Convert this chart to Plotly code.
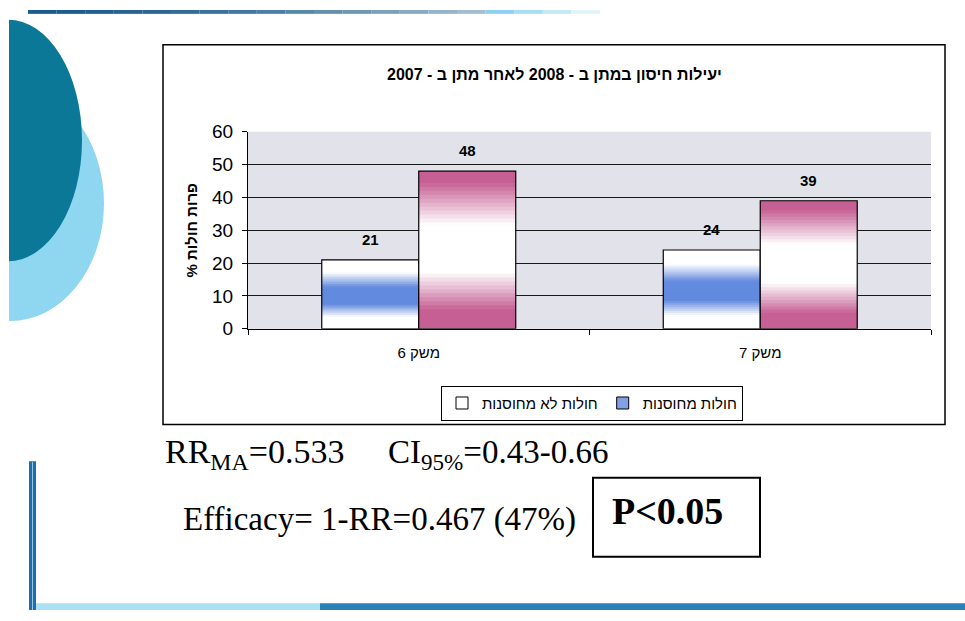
import plotly.graph_objects as go

# ---------------- data ----------------
categories = ["משק 6", "משק 7"]
vaccinated = [21, 24]
unvaccinated = [48, 39]
name_vacc = "חולות מחוסנות"
name_unvacc = "חולות לא מחוסנות"
y_ticks = [0, 10, 20, 30, 40, 50, 60]
title_text = "יעילות חיסון במתן ב - 2008 לאחר מתן ב - 2007"
y_title = "% פרות חולות"
rr_text = "RR<sub>MA</sub>=0.533"
ci_text = "CI<sub>95%</sub>=0.43-0.66"
eff_text = "Efficacy= 1-RR=0.467 (47%)"
p_text = "P<0.05"

W, H = 965, 621


def px(x):
    return x / W


def py(y):
    return 1 - y / H


# plot area in pixels
PL, PR, PT, PB = 248, 931, 126, 330
BARGAP = 0.432

SANS = "Liberation Sans, Arial, DejaVu Sans, sans-serif"
SERIF = "Liberation Serif, Times New Roman, serif"


def ramp(t, pts):
    for (t0, a0), (t1, a1) in zip(pts, pts[1:]):
        if t0 <= t <= t1:
            return a0 + (a1 - a0) * (t - t0) / (t1 - t0) if t1 > t0 else a1
    return pts[-1][1]


def mix(full, a):
    r, g, b = full
    return "rgb(%d,%d,%d)" % (255 + (r - 255) * a, 255 + (g - 255) * a, 255 + (b - 255) * a)


blue_full = (98, 138, 222)
pink_full = (198, 96, 148)
blue_profile = [(0, 0), (0.17, 0), (0.36, 1), (0.6, 1), (0.82, 0), (1, 0)]
pink_profile = [(0, 1), (0.12, 1), (0.36, 0), (0.66, 0), (0.93, 1), (1, 1)]

fig = go.Figure()

N = 40
series = [
    ("vacc", vaccinated, blue_full, blue_profile),
    ("unvacc", unvaccinated, pink_full, pink_profile),
]
for grp, vals, full, prof in series:
    for i in range(N):
        t = (i + 0.5) / N
        a = ramp(t, prof)
        h = min(1.6, N - i) / N
        fig.add_trace(go.Bar(
            x=categories,
            y=[v * h for v in vals],
            base=[v * i / N for v in vals],
            offsetgroup=grp,
            marker=dict(color=mix(full, a), line=dict(width=0)),
            showlegend=False,
            hoverinfo="skip",
        ))
    fig.add_trace(go.Bar(
        x=categories, y=vals, offsetgroup=grp,
        marker=dict(color="rgba(0,0,0,0)", line=dict(color="black", width=1.2)),
        showlegend=False,
        hovertemplate="%{x}: %{y}<extra></extra>",
    ))

# legend entries (ordered like the reference, visually)
fig.add_trace(go.Bar(
    x=[None], y=[None], offsetgroup="unvacc", name=name_unvacc,
    marker=dict(color="white", line=dict(color="black", width=1)),
))
fig.add_trace(go.Bar(
    x=[None], y=[None], offsetgroup="vacc", name=name_vacc,
    marker=dict(color="rgb(130,160,230)", line=dict(color="black", width=1)),
))

# value labels
plot_w = PR - PL
cat_w = plot_w / len(categories)
bar_w = cat_w * (1 - BARGAP) / 2
annotations = []
for vals, sign in ((vaccinated, -1), (unvaccinated, 1)):
    for c, v in zip(categories, vals):
        annotations.append(dict(
            x=c, y=v, xref="x", yref="y", text="<b>%d</b>" % v, showarrow=False,
            xshift=sign * bar_w / 2, yshift=10, yanchor="bottom",
            font=dict(family=SANS, size=15, color="black"),
        ))

# title
annotations.append(dict(
    x=px(554), y=py(67), xref="paper", yref="paper", text="<b>%s</b>" % title_text,
    showarrow=False, xanchor="center", yanchor="middle",
    font=dict(family=SANS, size=16, color="black"),
))

# statistics text
annotations += [
    dict(x=px(163), y=py(460), xref="paper", yref="paper", text=rr_text, showarrow=False,
         xanchor="left", yanchor="middle", font=dict(family=SERIF, size=34, color="black")),
    dict(x=px(386), y=py(460), xref="paper", yref="paper", text=ci_text, showarrow=False,
         xanchor="left", yanchor="middle", font=dict(family=SERIF, size=33, color="black")),
    dict(x=px(181), y=py(527), xref="paper", yref="paper", text=eff_text, showarrow=False,
         xanchor="left", yanchor="middle", font=dict(family=SERIF, size=33, color="black")),
    dict(x=px(667), y=py(519), xref="paper", yref="paper", text="<b>%s</b>" % p_text.replace("<", "&lt;"),
         showarrow=False, xanchor="center", yanchor="middle",
         font=dict(family=SERIF, size=38, color="black")),
]

shapes = []
# decorative ellipses
shapes.append(dict(type="circle", xref="paper", yref="paper", layer="below",
                   x0=px(-84), x1=px(104), y0=py(78), y1=py(322),
                   fillcolor="rgb(143,214,240)", line=dict(width=0)))
shapes.append(dict(type="circle", xref="paper", yref="paper", layer="below",
                   x0=px(-66), x1=px(82), y0=py(10), y1=py(260),
                   fillcolor="rgb(12,120,152)", line=dict(width=0)))
shapes.append(dict(type="rect", xref="paper", yref="paper", layer="below",
                   x0=px(0), x1=px(9), y0=py(0), y1=py(340),
                   fillcolor="white", line=dict(width=0)))
# top gradient line
seg = 20
for i in range(seg):
    x0 = 28 + i * (600 - 28) / seg
    x1 = 28 + (i + 1) * (600 - 28) / seg
    a = 1 - (i / seg) ** 1.6
    shapes.append(dict(type="rect", xref="paper", yref="paper", layer="below",
                       x0=px(x0), x1=px(x1), y0=py(0), y1=py(4),
                       fillcolor=mix((28, 92, 140), a * 0.95 + 0.05) if i < seg - 4 else mix((140, 210, 240), 1 - (i - seg + 4) / 4),
                       line=dict(width=0)))
# left vertical line
shapes.append(dict(type="rect", xref="paper", yref="paper",
                   x0=px(29), x1=px(36), y0=py(467), y1=py(621),
                   fillcolor="rgb(30,110,170)", line=dict(width=0)))
shapes.append(dict(type="line", xref="paper", yref="paper",
                   x0=px(32.5), x1=px(32.5), y0=py(468), y1=py(621),
                   line=dict(color="rgb(150,200,235)", width=1)))
# bottom line
shapes.append(dict(type="rect", xref="paper", yref="paper",
                   x0=px(36), x1=px(320), y0=py(614), y1=py(621),
                   fillcolor="rgb(170,225,245)", line=dict(width=0)))
shapes.append(dict(type="rect", xref="paper", yref="paper",
                   x0=px(320), x1=px(965), y0=py(614), y1=py(621),
                   fillcolor="rgb(40,128,180)", line=dict(width=0)))
# chart frame
shapes.append(dict(type="rect", xref="paper", yref="paper",
                   x0=px(163), x1=px(945), y0=py(36), y1=py(429),
                   fillcolor="rgba(0,0,0,0)", line=dict(color="black", width=1.5)))
# P box
shapes.append(dict(type="rect", xref="paper", yref="paper",
                   x0=px(593), x1=px(760), y0=py(484), y1=py(566),
                   fillcolor="rgba(0,0,0,0)", line=dict(color="black", width=2)))

fig.update_layout(
    width=W, height=H, autosize=False,
    margin=dict(l=0, r=0, t=0, b=0),
    paper_bgcolor="white",
    plot_bgcolor="rgb(226,226,234)",
    barmode="group", bargap=BARGAP, bargroupgap=0,
    showlegend=True,
    legend=dict(orientation="h", x=px(592), xanchor="center", y=py(407), yanchor="middle",
                bgcolor="white", bordercolor="black", borderwidth=1,
                font=dict(family=SANS, size=15, color="black"),
                itemclick=False, itemdoubleclick=False),
    xaxis=dict(domain=[px(PL), px(PR)], type="category", showline=True, linecolor="black",
               linewidth=1.2, ticks="outside", tickson="boundaries", ticklen=5,
               tickcolor="black", showgrid=False, ticklabelstandoff=10,
               tickfont=dict(family=SANS, size=15, color="black"), fixedrange=True),
    yaxis=dict(domain=[py(PB), py(PT)], range=[0, 60], tickvals=y_ticks,
               showline=True, linecolor="black", linewidth=1.2, ticks="outside",
               ticklen=5, tickcolor="black", showgrid=True, gridcolor="rgb(25,25,25)",
               gridwidth=1, zeroline=False, ticklabelstandoff=5,
               tickfont=dict(family=SANS, size=19, color="black"),
               title=dict(text="<b>%s</b>" % y_title, standoff=10,
                          font=dict(family=SANS, size=15, color="black")),
               fixedrange=True),
    annotations=annotations,
    shapes=shapes,
)

fig.write_html(
    "out.html", config={"displayModeBar": False},
    post_script="document.body.style.margin='0';document.body.style.overflow='hidden';",
)
